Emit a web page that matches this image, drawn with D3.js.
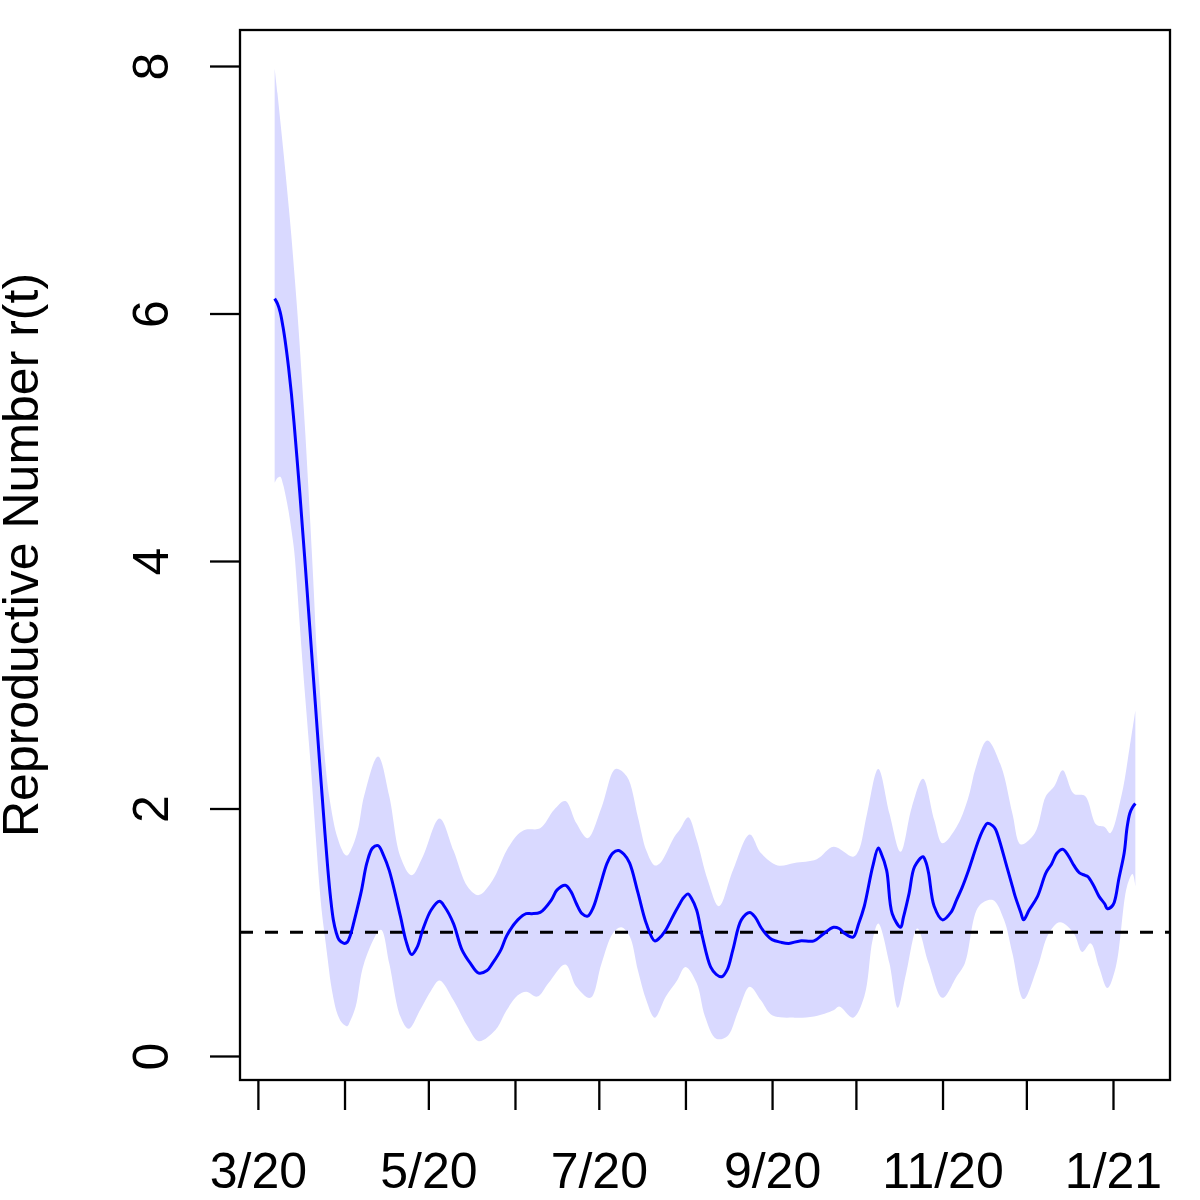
<!DOCTYPE html>
<html>
<head>
<meta charset="utf-8">
<script src="https://cdn.jsdelivr.net/npm/d3@7"></script>
<style>
  body { margin: 0; background: #fff; }
</style>
</head>
<body>
<svg id="chart"></svg>
<script>
// days are counted from 1 March 2020
const startDay = Date.UTC(2020, 2, 1);

// posterior mean of r(t)
const meanDay = [6, 7, 8, 9, 10, 11, 12, 13, 14, 15,
  16, 17, 18, 19, 20, 21, 22, 23, 24, 25,
  26, 27, 28, 29, 30, 31, 32, 33, 34, 35,
  37, 39, 41,
  43, 45, 47, 51, 53, 55, 57, 59, 62, 65,
  67, 70, 73, 76, 79, 82, 84, 87, 89, 93,
  96, 98, 101, 105, 107, 110, 112, 114, 116, 118,
  120, 122, 125, 127, 129, 131, 133, 136, 139, 142,
  144, 146, 149, 151, 152, 154, 155, 157, 159, 162,
  164, 166, 168, 170, 173, 176, 178, 180, 182, 184,
  187, 190, 194, 199, 202, 206, 208, 210, 213, 215,
  217, 220, 222, 223, 225, 227, 230, 231, 233, 235,
  238, 239, 240, 242, 245, 248, 250, 252, 254, 258,
  260, 261, 263, 264, 268, 270, 271, 273, 274, 276,
  279, 282, 284, 286, 288, 290, 292, 294, 296, 297,
  299, 301, 303, 304, 306, 307, 308, 310, 311, 312,
  313, 314];
const meanR = [6.12, 6.08, 6.01, 5.89, 5.74, 5.56, 5.35, 5.10, 4.83, 4.55,
  4.25, 3.95, 3.64, 3.33, 3.02, 2.71, 2.40, 2.10, 1.80, 1.52,
  1.28, 1.10, 1.00, 0.94, 0.92, 0.91, 0.92, 0.97, 1.05, 1.14,
  1.33, 1.56, 1.68,
  1.70, 1.62, 1.50, 1.13, 0.93, 0.82, 0.88, 1.02, 1.18, 1.25,
  1.20, 1.07, 0.86, 0.75, 0.67, 0.69, 0.75, 0.86, 0.97, 1.10,
  1.15, 1.15, 1.16, 1.26, 1.34, 1.38, 1.33, 1.23, 1.15, 1.13,
  1.20, 1.34, 1.56, 1.64, 1.66, 1.63, 1.56, 1.32, 1.07, 0.93,
  0.96, 1.02, 1.15, 1.23, 1.27, 1.31, 1.28, 1.18, 0.97, 0.72,
  0.66, 0.64, 0.70, 0.86, 1.10, 1.16, 1.12, 1.04, 0.98, 0.94,
  0.92, 0.91, 0.93, 0.93, 0.98, 1.04, 1.03, 0.99, 0.96, 1.07,
  1.21, 1.53, 1.68, 1.64, 1.50, 1.15, 1.04, 1.12, 1.31, 1.53,
  1.61, 1.57, 1.48, 1.21, 1.10, 1.16, 1.26, 1.36, 1.48, 1.75,
  1.85, 1.88, 1.86, 1.83, 1.53, 1.37, 1.29, 1.16, 1.10, 1.18,
  1.29, 1.48, 1.55, 1.64, 1.67, 1.62, 1.54, 1.48, 1.46, 1.45,
  1.38, 1.29, 1.23, 1.19, 1.22, 1.29, 1.42, 1.64, 1.84, 1.96,
  2.01, 2.04];

// upper edge of the credible band
const upperDay = [6, 7, 8, 9, 10, 11, 12, 13, 14, 15,
  16, 17, 18, 19, 20, 21, 22, 23, 24, 25,
  26, 27, 28, 30, 31, 32, 34, 36,
  38, 43, 47, 51, 55,
  59, 65, 70, 75, 79, 84, 89, 93, 96, 101,
  106, 110, 114, 118, 123, 128, 132, 136, 139, 142,
  144, 149, 151, 154, 157, 161, 165, 170, 176, 180,
  186, 192, 200, 206, 213, 215, 218, 222, 226, 230,
  234, 238, 242, 245, 250, 254, 257, 261, 266, 270,
  273, 278, 282, 285, 288, 292, 296, 300, 303, 305,
  309, 312, 314];
const upperR = [7.98, 7.78, 7.56, 7.34, 7.11, 6.87, 6.62, 6.34, 6.05, 5.73,
  5.38, 5.02, 4.62, 4.20, 3.76, 3.30, 3.00, 2.68, 2.40, 2.18,
  2.03, 1.90, 1.80, 1.67, 1.63, 1.62, 1.70, 1.85,
  2.10, 2.42, 2.10, 1.61, 1.46,
  1.61, 1.92, 1.66, 1.37, 1.30, 1.42, 1.66, 1.79, 1.83, 1.84,
  1.99, 2.06, 1.88, 1.76, 2.01, 2.32, 2.26, 1.93, 1.66, 1.54,
  1.56, 1.77, 1.83, 1.93, 1.75, 1.42, 1.21, 1.50, 1.79, 1.64,
  1.54, 1.56, 1.59, 1.69, 1.61, 1.66, 1.96, 2.32, 1.96, 1.65,
  2.01, 2.24, 1.91, 1.72, 1.85, 2.07, 2.34, 2.55, 2.34, 1.96,
  1.71, 1.80, 2.10, 2.18, 2.31, 2.12, 2.10, 1.87, 1.85, 1.80,
  2.10, 2.50, 2.79];

// lower edge of the credible band
const lowerDay = [6, 7, 8, 9, 10, 11, 12, 13, 14, 15,
  16, 17, 18, 19, 20, 21, 22, 23, 24, 25,
  26, 27, 28, 29, 30, 31, 32, 33,
  35, 38, 44, 47, 51, 54, 58, 62,
  65, 70, 75, 79, 85, 89, 93, 96, 100, 104,
  110, 114, 119, 123, 127, 130, 133, 136, 139, 142,
  146, 150, 153, 157, 160, 164, 168, 172, 176, 180,
  184, 192, 199, 206, 208, 213, 217, 220, 222, 226,
  229, 232, 236, 240, 245, 250, 253, 258, 263, 267,
  270, 274, 279, 283, 287, 292, 295, 298, 301, 304,
  307, 311, 313, 314];
const lowerR = [4.63, 4.67, 4.68, 4.62, 4.52, 4.40, 4.25, 4.08, 3.80, 3.48,
  3.17, 2.88, 2.60, 2.32, 2.00, 1.68, 1.38, 1.14, 0.96, 0.78,
  0.60, 0.47, 0.37, 0.31, 0.27, 0.25, 0.24, 0.28,
  0.40, 0.75, 1.02, 0.75, 0.32, 0.22, 0.37, 0.53,
  0.61, 0.45, 0.24, 0.12, 0.21, 0.37, 0.49, 0.52, 0.48, 0.59,
  0.74, 0.56, 0.47, 0.75, 0.99, 1.04, 0.97, 0.69, 0.45, 0.31,
  0.48, 0.61, 0.72, 0.59, 0.32, 0.14, 0.16, 0.37, 0.56, 0.45,
  0.33, 0.31, 0.32, 0.37, 0.40, 0.31, 0.48, 0.94, 1.07, 0.75,
  0.39, 0.67, 1.03, 0.75, 0.47, 0.64, 0.75, 1.21, 1.26, 1.10,
  0.83, 0.46, 0.72, 0.99, 1.08, 0.99, 0.84, 0.91, 0.72, 0.55,
  0.72, 1.37, 1.47, 1.37];

const referenceR = 1;
const yTicks = [0, 2, 4, 6, 8];
const monthTicks = ['2020-03-01', '2020-04-01', '2020-05-01', '2020-06-01', '2020-07-01',
  '2020-08-01', '2020-09-01', '2020-10-01', '2020-11-01', '2020-12-01', '2021-01-01'];
const monthLabels = ['3/20', '', '5/20', '', '7/20', '', '9/20', '', '11/20', '', '1/21'];

const width = 1200, height = 1200;
const margin = { top: 30, right: 30, bottom: 120, left: 240 };
const font = "'Liberation Sans', Arial, Helvetica, sans-serif";
const fontSize = '50px';

const toDate = d => new Date(startDay + d * 864e5);

const svg = d3.select('#chart')
  .attr('width', width)
  .attr('height', height);

const x = d3.scaleUtc()
  .domain([toDate(-6.4), toDate(326.4)])
  .range([margin.left, width - margin.right]);

const y = d3.scaleLinear()
  .domain([-0.194, 8.291])
  .range([height - margin.bottom, margin.top]);

// credible band: upper edge forward, lower edge back
const edge = d3.line().curve(d3.curveCatmullRom.alpha(0.5));
const upperPts = upperDay.map((d, i) => [x(toDate(d)), y(upperR[i])]);
const lowerPts = lowerDay.map((d, i) => [x(toDate(d)), y(lowerR[i])]).reverse();

svg.append('path')
  .attr('d', edge(upperPts) + 'L' + edge(lowerPts).slice(1) + 'Z')
  .attr('fill', '#d9d9ff')
  .attr('stroke', 'none');

// reference line at r = 1
svg.append('line')
  .attr('x1', margin.left)
  .attr('x2', width - margin.right)
  .attr('y1', y(referenceR))
  .attr('y2', y(referenceR))
  .attr('stroke', '#000')
  .attr('stroke-width', 2.8)
  .attr('stroke-dasharray', '13,12');

// mean curve
const meanLine = d3.line()
  .x((d, i) => x(toDate(d)))
  .y((d, i) => y(meanR[i]))
  .curve(d3.curveCatmullRom.alpha(0.5));

svg.append('path')
  .attr('d', meanLine(meanDay))
  .attr('fill', 'none')
  .attr('stroke', '#0000ff')
  .attr('stroke-width', 3);

// plot box
svg.append('rect')
  .attr('x', margin.left)
  .attr('y', margin.top)
  .attr('width', width - margin.left - margin.right)
  .attr('height', height - margin.top - margin.bottom)
  .attr('fill', 'none')
  .attr('stroke', '#000')
  .attr('stroke-width', 2.3);

// y axis with rotated labels
const yAxis = svg.append('g')
  .attr('transform', `translate(${margin.left},0)`)
  .call(d3.axisLeft(y).tickValues(yTicks).tickSize(30).tickFormat(d3.format('d')));

yAxis.select('.domain').remove();
yAxis.selectAll('line').attr('stroke-width', 2.3);
yAxis.selectAll('text')
  .attr('x', 0)
  .attr('dy', 0)
  .attr('text-anchor', 'middle')
  .attr('transform', 'translate(-72,0) rotate(-90)')
  .style('font-family', font)
  .style('font-size', fontSize)
  .attr('fill', '#000');

// x axis, one tick a month
const xAxis = svg.append('g')
  .attr('transform', `translate(0,${height - margin.bottom})`)
  .call(d3.axisBottom(x)
    .tickValues(monthTicks.map(s => new Date(s + 'T00:00:00Z')))
    .tickSize(30)
    .tickFormat((d, i) => monthLabels[i]));

xAxis.select('.domain').remove();
xAxis.selectAll('line').attr('stroke-width', 2.3);
xAxis.selectAll('text')
  .attr('y', 108)
  .attr('dy', 0)
  .style('font-family', font)
  .style('font-size', fontSize)
  .attr('fill', '#000');

// y axis title
svg.append('text')
  .attr('transform', `translate(38,${(margin.top + height - margin.bottom) / 2}) rotate(-90)`)
  .attr('text-anchor', 'middle')
  .style('font-family', font)
  .style('font-size', fontSize)
  .attr('fill', '#000')
  .text('Reproductive Number r(t)');
</script>
</body>
</html>
